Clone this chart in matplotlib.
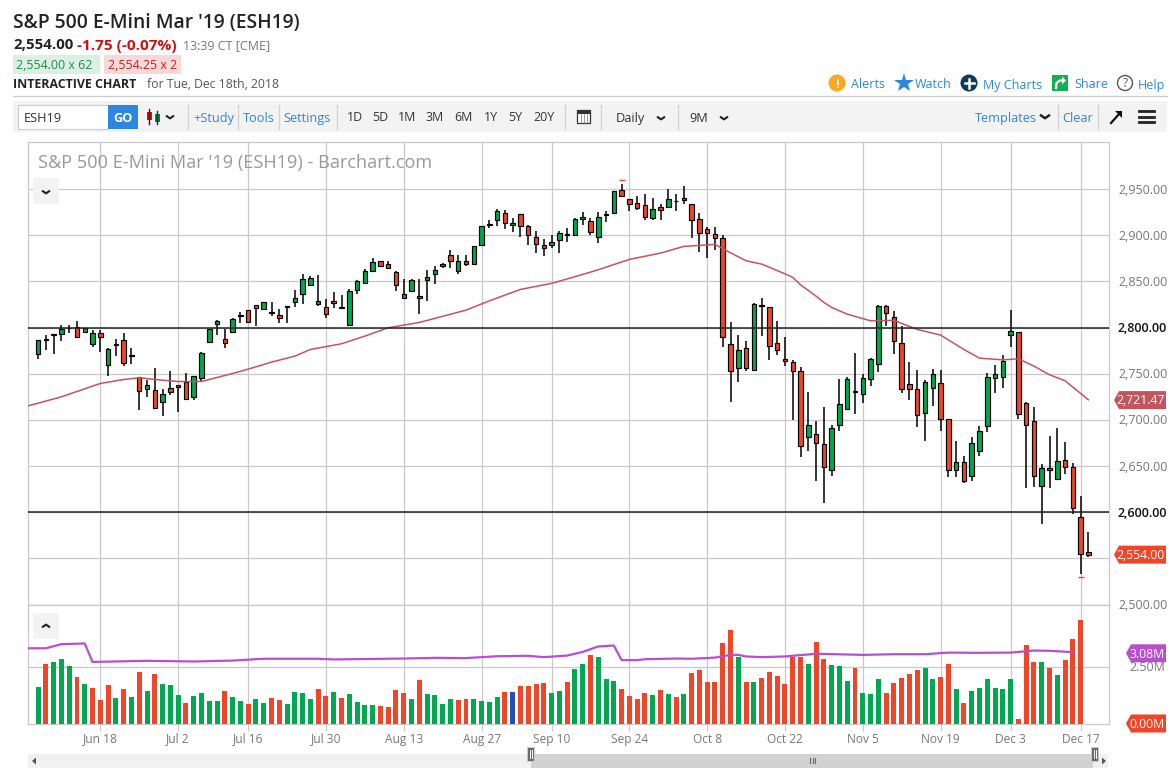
import matplotlib
matplotlib.use('Agg')
import matplotlib.pyplot as plt
from matplotlib.patches import Rectangle, Polygon, Circle

plt.rcParams['font.family'] = ['Open Sans', 'DejaVu Sans']

W, H = 1175, 772

# daily candles, index 0 is the first bar on the chart
opens = [2771.6, 2788.2, 2792.9, 2792.6, 2799.8, 2800.2, 2795.5, 2782.5, 2794.7, 2759.7,
         2782.1, 2787.1, 2770.2, 2746.0, 2733.7, 2731.9, 2719.6, 2735.1, 2737.3, 2741.6,
         2725.0, 2745.6, 2784.6, 2804.1, 2788.2, 2795.5, 2813.5, 2818.6, 2824.0, 2820.4,
         2816.4, 2813.2, 2823.3, 2828.0, 2836.7, 2846.4, 2825.8, 2821.8, 2828.3, 2821.8,
         2803.0, 2840.3, 2848.6, 2860.9, 2871.7, 2868.5, 2859.8, 2831.6, 2839.2, 2833.8,
         2851.1, 2857.6, 2866.3, 2878.2, 2860.9, 2871.7, 2868.5, 2889.0, 2911.8, 2916.1,
         2923.7, 2910.7, 2922.6, 2909.6, 2897.7, 2889.0, 2889.0, 2894.5, 2901.0, 2899.9,
         2917.2, 2915.0, 2897.7, 2923.0, 2923.7, 2948.7, 2938.9, 2934.6, 2932.4, 2918.7,
         2930.2, 2930.2, 2937.5, 2937.8, 2933.5, 2917.2, 2906.4, 2901.0, 2896.6, 2781.7,
         2755.7, 2777.4, 2754.6, 2824.0, 2821.8, 2782.8, 2765.5, 2762.3, 2752.5, 2682.0,
         2684.2, 2673.4, 2645.2, 2695.0, 2711.3, 2730.8, 2728.6, 2743.8, 2760.1, 2822.9,
         2811.0, 2782.8, 2738.4, 2734.0, 2707.0, 2735.1, 2739.5, 2701.5, 2645.2, 2654.9,
         2638.7, 2665.8, 2692.9, 2744.9, 2747.0, 2791.5, 2794.8, 2717.8, 2698.3, 2628.9,
         2647.4, 2636.5, 2657.1, 2649.5, 2595.3, 2557.4]
highs = [2786.4, 2791.9, 2792.9, 2802.7, 2802.7, 2807.0, 2799.4, 2797.3, 2797.3, 2777.8,
         2787.5, 2794.7, 2777.8, 2746.3, 2743.1, 2755.7, 2733.0, 2753.5, 2737.3, 2750.3,
         2748.1, 2774.1, 2798.0, 2808.1, 2798.4, 2809.9, 2816.4, 2818.9, 2824.7, 2827.3,
         2827.3, 2819.7, 2823.3, 2840.3, 2858.0, 2855.4, 2856.9, 2830.9, 2838.5, 2835.2,
         2841.4, 2851.1, 2863.0, 2875.0, 2871.7, 2872.0, 2860.9, 2852.2, 2852.2, 2852.2,
         2861.9, 2866.3, 2869.5, 2884.0, 2878.6, 2878.6, 2888.0, 2910.0, 2916.1, 2928.1,
         2927.0, 2918.3, 2922.6, 2910.7, 2904.2, 2895.6, 2899.9, 2904.2, 2907.5, 2918.3,
         2924.8, 2918.3, 2924.8, 2925.9, 2948.3, 2955.5, 2938.9, 2942.2, 2944.3, 2940.0,
         2933.5, 2949.7, 2944.7, 2953.4, 2933.5, 2923.7, 2908.6, 2908.6, 2899.9, 2805.6,
         2791.9, 2785.0, 2826.2, 2832.0, 2821.8, 2807.7, 2789.7, 2764.4, 2756.8, 2730.1,
         2698.7, 2713.8, 2695.0, 2744.2, 2747.0, 2772.4, 2749.2, 2766.6, 2824.0, 2824.0,
         2817.5, 2801.3, 2762.6, 2753.9, 2743.1, 2755.0, 2753.9, 2701.5, 2677.0, 2660.7,
         2681.3, 2693.2, 2750.3, 2759.3, 2769.8, 2819.0, 2794.8, 2719.2, 2713.8, 2652.0,
         2682.4, 2691.0, 2675.9, 2652.8, 2617.4, 2578.3]
lows = [2765.8, 2775.6, 2771.3, 2785.4, 2794.4, 2790.0, 2795.5, 2779.2, 2773.4, 2747.4,
        2769.1, 2758.6, 2760.4, 2710.6, 2724.7, 2712.0, 2704.1, 2726.8, 2708.4, 2722.8,
        2721.4, 2742.4, 2784.6, 2791.9, 2777.8, 2795.5, 2804.9, 2806.3, 2801.6, 2818.9,
        2812.8, 2804.9, 2804.9, 2822.2, 2825.5, 2846.4, 2823.3, 2810.3, 2821.1, 2820.4,
        2803.0, 2836.3, 2847.1, 2860.9, 2865.2, 2863.7, 2839.5, 2831.6, 2839.2, 2814.6,
        2829.0, 2847.1, 2864.8, 2864.5, 2858.0, 2866.6, 2868.5, 2889.0, 2907.8, 2910.0,
        2906.7, 2903.5, 2898.1, 2889.4, 2880.7, 2877.5, 2886.2, 2880.7, 2892.7, 2898.8,
        2911.1, 2900.2, 2891.9, 2914.3, 2922.6, 2942.2, 2926.3, 2927.3, 2916.5, 2916.5,
        2916.5, 2930.2, 2926.3, 2933.8, 2897.0, 2881.8, 2875.3, 2884.0, 2778.8, 2719.2,
        2740.9, 2752.8, 2754.6, 2790.8, 2764.8, 2770.2, 2758.3, 2699.7, 2659.6, 2666.1,
        2633.6, 2609.8, 2639.0, 2687.8, 2711.3, 2706.2, 2718.5, 2736.6, 2751.8, 2801.6,
        2771.3, 2729.0, 2721.4, 2692.2, 2677.0, 2714.9, 2687.8, 2637.9, 2637.9, 2631.5,
        2633.6, 2660.7, 2686.7, 2729.0, 2734.4, 2778.9, 2700.8, 2626.0, 2627.1, 2587.0,
        2626.0, 2636.5, 2641.2, 2597.9, 2533.5, 2551.6]
closes = [2786.1, 2786.1, 2792.2, 2798.0, 2799.1, 2790.0, 2799.1, 2794.7, 2790.0, 2776.3,
          2781.4, 2761.9, 2769.5, 2730.8, 2737.3, 2713.1, 2728.6, 2730.4, 2735.9, 2722.8,
          2748.1, 2772.0, 2798.0, 2807.7, 2783.5, 2808.8, 2812.8, 2806.3, 2821.5, 2827.3,
          2815.7, 2810.6, 2822.6, 2831.6, 2852.2, 2853.3, 2828.3, 2814.3, 2826.9, 2821.1,
          2839.2, 2850.0, 2860.9, 2870.6, 2866.3, 2864.8, 2846.4, 2835.9, 2851.1, 2831.6,
          2854.4, 2861.9, 2868.5, 2871.7, 2871.7, 2868.5, 2888.0, 2909.6, 2910.7, 2925.9,
          2912.9, 2912.9, 2909.6, 2899.9, 2890.1, 2885.8, 2892.3, 2902.0, 2900.2, 2917.2,
          2919.4, 2903.1, 2919.4, 2922.3, 2947.6, 2942.2, 2933.5, 2929.1, 2919.4, 2928.1,
          2927.0, 2938.9, 2936.7, 2940.0, 2916.1, 2902.0, 2902.0, 2896.6, 2789.3, 2752.5,
          2775.2, 2755.7, 2825.1, 2822.9, 2779.6, 2775.2, 2763.3, 2752.5, 2671.2, 2695.0,
          2675.5, 2649.5, 2690.7, 2716.7, 2743.8, 2729.7, 2744.9, 2765.5, 2822.9, 2815.4,
          2785.0, 2734.0, 2734.0, 2704.8, 2740.6, 2749.2, 2701.5, 2645.2, 2653.9, 2634.3,
          2675.5, 2688.5, 2747.0, 2749.2, 2763.3, 2795.8, 2705.9, 2695.0, 2639.7, 2647.4,
          2645.2, 2656.0, 2649.5, 2605.0, 2555.2, 2554.1]

# 50 day average, read at these bars
ma_bars = [-1.3, 3, 8, 11, 13, 16, 18, 21, 25, 27, 30, 33, 35, 39, 42, 45, 49, 55, 58, 62, 66,
           70, 72, 76, 80, 83, 87, 89, 91, 93, 96, 97, 98, 100, 101, 102, 104, 107, 110, 113,
           116, 119, 121, 124, 126, 128, 130, 132, 135]
ma_vals = [2715.2, 2725.0, 2739.5, 2743.8, 2745.6, 2743.0, 2741.6, 2741.6, 2750.3, 2755.0,
           2762.6, 2769.1, 2776.3, 2782.5, 2790.8, 2799.8, 2805.6, 2818.9, 2829.0, 2841.4,
           2847.9, 2857.6, 2862.7, 2873.9, 2880.7, 2888.0, 2890.1, 2881.1, 2872.4, 2868.8,
           2858.3, 2854.4, 2846.4, 2834.1, 2827.3, 2821.9, 2814.6, 2807.4, 2807.8, 2798.0,
           2791.9, 2776.3, 2766.9, 2765.1, 2766.2, 2758.3, 2748.9, 2742.4, 2721.8]

# volume in millions, one per bar up to Dec 17
volume = [1.59, 2.60, 2.69, 2.82, 2.51, 2.03, 1.73, 1.55, 1.02, 1.68, 1.11, 1.51, 1.15, 2.25, 1.42,
          2.16, 1.73, 1.68, 1.24, 0.89, 1.20, 1.33, 0.98, 0.98, 1.42, 1.15, 0.98, 0.85, 1.07, 0.89,
          1.11, 1.02, 0.85, 1.37, 1.33, 1.07, 1.51, 1.20, 1.37, 1.11, 1.29, 0.94, 0.80, 0.80, 0.76,
          0.72, 1.46, 1.33, 1.07, 1.90, 1.29, 1.24, 0.85, 1.07, 1.02, 1.07, 1.07, 0.98, 0.94, 1.15,
          1.37, 1.37, 1.64, 1.64, 1.73, 1.77, 1.33, 1.42, 1.81, 2.38, 2.60, 3.00, 2.91, 1.94, 1.86,
          1.51, 1.20, 1.07, 1.33, 1.24, 1.46, 1.29, 1.15, 1.29, 2.21, 2.34, 1.81, 1.81, 3.52, 4.09,
          2.91, 1.81, 1.81, 1.99, 2.25, 2.08, 1.73, 2.91, 2.91, 2.60, 3.57, 2.82, 2.56, 2.51, 1.86,
          2.43, 1.33, 1.29, 1.94, 1.33, 1.77, 1.99, 2.16, 2.34, 2.43, 1.94, 2.03, 2.60, 1.51, 0.89,
          1.42, 1.55, 1.94, 1.55, 1.51, 1.94, 0.19, 3.44, 2.69, 2.69, 2.43, 2.12, 2.78, 3.70, 4.53]
# one letter per volume bar
vol_dirs = ("GRGGGRGRRRGRGRGRGGGRGGGGRGGRGGRRGGGGRRGRGGGGRRRR"
            "GRGGGGRRGGGGRBRRRRGGRGGRGGGRRRRGRGRGRRRRRRGRGRRR"
            "RRRGRRGGGRGGGRRRRRGGRRGRGGGGGGRRRGRGRRR")

vol_avg_bars = [-1.3, 1, 3, 6, 7, 14, 20, 25, 29, 36, 38, 47, 51, 55, 59, 63, 65, 68, 70, 72, 74, 75,
                77, 78, 82, 84, 87, 89, 90, 91, 93, 96, 100, 106, 110, 114, 117, 121, 125, 128,
                130, 133]
vol_avg = [3.30, 3.30, 3.48, 3.51, 2.70, 2.75, 2.72, 2.76, 2.84, 2.84, 2.81, 2.85, 2.88, 2.87, 2.95,
           2.97, 2.91, 2.98, 3.14, 3.38, 3.42, 2.78, 2.78, 2.82, 2.85, 2.84, 2.89, 3.01, 3.01, 2.94,
           2.91, 2.94, 3.06, 3.01, 3.04, 3.04, 3.11, 3.10, 3.11, 3.20, 3.19, 3.13]

date_bars = [8, 18, 27, 37, 47, 57, 66, 76, 86, 96, 106, 116, 125, 134]
date_labels = ['Jun 18', 'Jul 2', 'Jul 16', 'Jul 30', 'Aug 13', 'Aug 27', 'Sep 10', 'Sep 24',
               'Oct 8', 'Oct 22', 'Nov 5', 'Nov 19', 'Dec 3', 'Dec 17']
price_ticks = [2500, 2550, 2600, 2650, 2700, 2750, 2800, 2850, 2900, 2950]
price_tick_labels = ['2,500.00', '', '2,600.00', '2,650.00', '2,700.00', '2,750.00', '2,800.00',
                     '2,850.00', '2,900.00', '2,950.00']
marked_high = (75, 2959.5)
marked_low = (134, 2530.0)

GREEN = '#00a84f'
RED = '#f04528'
BLUE = '#2350b8'
GRID = '#c9c9c9'
LINK = '#2d86e0'
TEXT = '#333333'
GREY = '#777777'


def box(l, t, r, b):
    return [l / W, 1 - b / H, (r - l) / W, (b - t) / H]


fig = plt.figure(figsize=(W / 100, H / 100), dpi=100, facecolor='white')

PLOT_L, PLOT_R = 28, 1108.5
xlim = ((PLOT_L - 38.1) / 7.78, (PLOT_R - 38.1) / 7.78)

ax = fig.add_axes(box(PLOT_L, 142, PLOT_R, 604.5))
ax.set_xlim(xlim)
ax.set_ylim(2500, 3001.1)
ax2 = fig.add_axes(box(PLOT_L, 604.5, PLOT_R, 723.5))
ax2.set_xlim(xlim)
ax2.set_ylim(0, 5.22)

for a in (ax, ax2):
    a.set_axisbelow(True)
    for s in a.spines.values():
        s.set_color(GRID)
        s.set_linewidth(0.9)
    a.grid(True, color=GRID, lw=0.9)
    a.set_xticks(date_bars)
    a.yaxis.tick_right()

ax.set_yticks(price_ticks)
ax.tick_params(length=0, labelbottom=False, labelright=False)
ax2.set_yticks([2.5])
ax2.tick_params(axis='y', length=0, labelright=False)
ax2.tick_params(axis='x', length=5, color=GRID, width=0.9, pad=1.5)
ax2.set_xticklabels(date_labels, fontsize=8.6, color=GREY)

# candles
bars = list(range(len(opens)))
ax.vlines(bars, lows, highs, color='black', lw=1.1, zorder=3)
bodies = [abs(c - o) for o, c in zip(opens, closes)]
bottoms = [min(o, c) for o, c in zip(opens, closes)]
cols = [GREEN if c >= o else RED for o, c in zip(opens, closes)]
ax.bar(bars, bodies, bottom=bottoms, width=0.58, color=cols, edgecolor='black', lw=0.85, zorder=4)
ax.plot([marked_high[0], marked_low[0]], [marked_high[1], marked_low[1]], ls='none', marker='_',
        ms=4.5, mew=1, color=RED, zorder=4)
ax.plot(ma_bars, ma_vals, color='#c4545e', lw=1.1, zorder=5)
ax.axhline(2800, color='#222222', lw=1.1, zorder=6)
ax.axhline(2600, color='#222222', lw=1.1, zorder=6)

# volume
dir_cols = {'G': GREEN, 'R': RED, 'B': BLUE}
ax2.bar(range(len(volume)), volume, width=0.64, color=[dir_cols[d] for d in vol_dirs], zorder=3)
ax2.plot(vol_avg_bars, vol_avg, color='#b94fd0', lw=1.6, zorder=4)

# page furniture, drawn in pixel coordinates
ui = fig.add_axes([0, 0, 1, 1], facecolor='none', zorder=10)
ui.set_xlim(0, W)
ui.set_ylim(H, 0)
ui.axis('off')


def label(x, y, s, size=9.2, color=TEXT, weight='normal', ha='left', **kw):
    # y is the middle of the capitals, so put the baseline half a cap height below it
    return ui.text(x, y + size * 0.5, s, fontsize=size, color=color, fontweight=weight, ha=ha,
                   va='baseline', **kw)


def rect(l, t, r, b, fc, ec='none', lw=0.8, z=1):
    ui.add_patch(Rectangle((l, t), r - l, b - t, facecolor=fc, edgecolor=ec, lw=lw, zorder=z))


def chevron(x, y, up=False, size=4, lw=1.5, color='#222222'):
    d = -size * 0.7 if up else size * 0.7
    ui.plot([x - size, x, x + size], [y - d / 2, y + d / 2, y - d / 2], color=color, lw=lw,
            solid_capstyle='butt', zorder=3)


def tag(y, s, color, left=1114):
    ui.add_patch(Polygon([(left, y), (left + 5, y - 9), (1166, y - 9), (1166, y + 9), (left + 5, y + 9)],
                         facecolor=color, edgecolor='none', zorder=4))
    label(1165, y, s, size=8.8, color='white', ha='right', zorder=5)


# heading
label(13, 21, "S&P 500 E-Mini Mar '19 (ESH19)", size=13.9, color='#222222', weight='semibold')
label(13, 44, '2,554.00', size=10.8, color='#222222', weight='bold')
label(77, 44, '-1.75 (-0.07%)', size=11.1, color='#cc1111', weight='bold')
label(183, 44.5, '13:39 CT [CME]', size=9, color=GREY)
rect(13, 55, 100, 74, '#dcefe3')
label(16, 64.5, '2,554.00 x 62', size=8.9, color='#1f8a4c')
rect(104, 55, 181, 74, '#f8d9d9')
label(108, 64.5, '2,554.25 x 2', size=8.9, color='#cc2222')
label(13, 84, 'INTERACTIVE CHART', size=8.9, color='#222222', weight='bold')
label(147, 84, 'for Tue, Dec 18th, 2018', size=8.8, color='#555555')
ui.plot([13, 1167], [96, 96], color='#cccccc', lw=0.9)

# top right links
ui.add_patch(Circle((837, 83), 8.5, fc='#f9a825', ec='none', zorder=3))
label(837, 83, '!', size=9, color='white', weight='bold', ha='center', zorder=4)
label(851, 84, 'Alerts', size=9, color=LINK)
ui.plot([904], [83], marker='*', ms=15, color=LINK, mew=0)
label(915, 84, 'Watch', size=9, color=LINK)
ui.add_patch(Circle((969, 83), 8.5, fc='#12385c', ec='none', zorder=3))
ui.plot([964.5, 973.5], [83, 83], color='white', lw=1.8, zorder=4)
ui.plot([969, 969], [78.5, 87.5], color='white', lw=1.8, zorder=4)
label(983, 84, 'My Charts', size=9, color=LINK)
rect(1052, 75, 1068, 91, '#12b050', z=3)
ui.plot([1056, 1056.5, 1060, 1063], [88, 83, 80.5, 80.5], color='white', lw=1.6, zorder=4)
ui.add_patch(Polygon([(1062, 76.5), (1066, 80.5), (1062, 84.5)], fc='white', ec='none', zorder=4))
label(1074, 84, 'Share', size=9, color=LINK)
ui.add_patch(Circle((1125, 83), 7.5, fc='white', ec='#555555', lw=1, zorder=3))
label(1125, 83, '?', size=8.5, color='#555555', ha='center', zorder=4)
label(1138, 84, 'Help', size=9, color=LINK)

# toolbar
rect(13, 101, 1167, 132, '#f3f3f3', z=0)
rect(18, 105, 108, 129, 'white', ec='#cccccc')
label(24, 117, 'ESH19', size=9.2, color='#333333')
rect(108, 105, 138, 129, LINK)
label(123, 117, 'GO', size=9.2, color='white', weight='bold', ha='center')
ui.plot([149, 149], [109, 124], color='#222222', lw=1)
ui.plot([157, 157], [111, 124], color='#222222', lw=1)
rect(146.5, 112, 151.5, 120, '#cc1111')
rect(154.5, 114, 159.5, 122, '#00873c')
chevron(170, 117, size=4)
for sx in [188, 238, 279, 337, 565, 601, 678, 1058, 1098]:
    ui.plot([sx, sx], [105, 129], color='#d2d2d2', lw=0.9)
label(193, 117, '+Study', size=9.2, color=LINK)
label(243, 117, 'Tools', size=9.2, color=LINK)
label(283, 117, 'Settings', size=9.2, color=LINK)
for x, s in zip([347, 372, 398, 426, 454, 484, 508, 533],
                ['1D', '5D', '1M', '3M', '6M', '1Y', '5Y', '20Y']):
    label(x, 117, s, size=8.9, color='#333333')
rect(577, 110, 590, 123, 'white', ec='#333333', lw=0.9)
rect(577, 110, 590, 113.5, '#333333')
for gx in [580.5, 583.5, 586.5]:
    ui.plot([gx, gx], [113.5, 123], color='#777777', lw=0.5, zorder=2)
label(616, 117, 'Daily', size=9.2, color='#333333')
chevron(661, 118)
label(689, 117, '9M', size=9.2, color='#333333')
chevron(724, 118)
label(975, 117, 'Templates', size=9.2, color=LINK)
chevron(1045, 116.5, size=5, lw=1.8)
label(1062, 117, 'Clear', size=9.2, color=LINK)
ui.plot([1111, 1120], [123, 113], color='#111111', lw=1.6)
ui.add_patch(Polygon([(1122, 111), (1122, 118), (1115, 111)], fc='#111111', ec='none'))
for hy in [111, 116.5, 122]:
    ui.plot([1139, 1154], [hy, hy], color='#222222', lw=2)

# chart furniture
label(38, 161, "S&P 500 E-Mini Mar '19 (ESH19) - Barchart.com", size=13.1, color='#999999')
rect(33, 178, 59, 204, '#f3f3f3')
chevron(46, 192)
rect(33, 613, 59, 639, '#f3f3f3')
chevron(46, 626, up=True)

# price labels, placed from the price axis
to_ui = lambda a, v: ui.transData.inverted().transform(a.transData.transform((0, v)))[1]
for v, s in zip(price_ticks, price_tick_labels):
    if s and v not in (2800, 2600):
        label(1118, to_ui(ax, v), s, size=9, color=GREY)
for v, s in [(2800, '2,800.00'), (2600, '2,600.00')]:
    label(1118, to_ui(ax, v), s, size=9, color='#111111', weight='semibold')
tag(to_ui(ax, 2721.47), '2,721.47', '#c4545e')
tag(to_ui(ax, 2554.0), '2,554.00', RED)
label(1165, to_ui(ax2, 2.5), '2.50M', size=9, color=GREY, ha='right')
tag(to_ui(ax2, 3.08), '3.08M', '#b94fd0', left=1126)
tag(to_ui(ax2, 0.0), '0.00M', RED, left=1126)

# scrollbar
rect(28, 754, 1108, 768, '#f1f1f1')
rect(531, 754, 1093, 768, '#d2d2d2')
rect(527, 747, 534, 761, '#666666', ec='#cccccc')
rect(1091, 747, 1098, 761, '#666666', ec='#cccccc')
for hx in [529.5, 531.5, 1093.5, 1095.5]:
    ui.plot([hx, hx], [750, 758], color='white', lw=0.7, zorder=3)
for hx in [810, 812.5, 815]:
    ui.plot([hx, hx], [758, 763], color='#666666', lw=0.8)
ui.add_patch(Polygon([(32, 761), (36, 757.5), (36, 764.5)], fc='#555555', ec='none'))
ui.add_patch(Polygon([(1106, 761), (1102, 757.5), (1102, 764.5)], fc='#555555', ec='none'))

fig.savefig('out.png', dpi=100)
